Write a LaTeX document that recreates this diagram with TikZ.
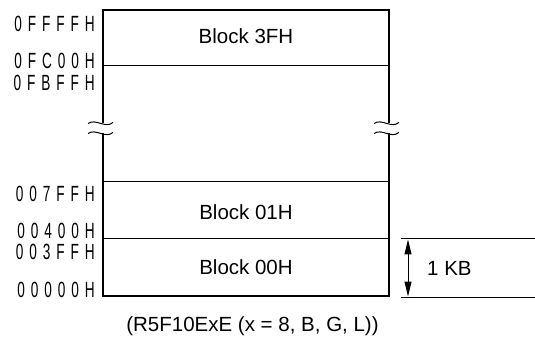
\documentclass[tikz,border=0pt]{standalone}
\usepackage{fontspec}
\setmainfont{Liberation Sans}
\newfontfamily\addrfont[FakeStretch=0.62,LetterSpace=27]{Liberation Sans}
\usetikzlibrary{arrows.meta}
\begin{document}
\begin{tikzpicture}[x=1pt,y=-1pt,
  blk/.style={font=\fontsize{20.5}{24}\selectfont,inner sep=0pt},
  addr/.style={anchor=east,font=\addrfont\fontsize{22}{24}\selectfont,inner sep=0pt},
  outline/.style={line width=2pt},
  divider/.style={line width=1pt},
  brk/.style={line width=1pt},
  dim/.style={line width=1pt,{Triangle[length=15pt,width=7pt]}-{Triangle[length=15pt,width=7pt]}}]
\useasboundingbox (0,0) rectangle (535,347);
% box corners
\coordinate (tl) at (103,10);
\coordinate (tr) at (389,10);
\coordinate (bl) at (103,296);
\coordinate (br) at (389,296);
\coordinate (lbu) at (103,123);
\coordinate (rbu) at (389,123);
\coordinate (lbl) at (103,133);
\coordinate (rbl) at (389,133);
\draw[outline] (lbu) -- (tl) -- (tr) -- (rbu);
\draw[outline] (lbl) -- (bl) -- (br) -- (rbl);
% dividers
\coordinate (d1l) at (103,66);  \coordinate (d1r) at (389,66);
\coordinate (d2l) at (103,182); \coordinate (d2r) at (389,182);
\coordinate (d3l) at (103,239); \coordinate (d3r) at (389,239);
\draw[divider] (d1l) -- (d1r);
\draw[divider] (d2l) -- (d2r);
\draw[divider] (d3l) -- (d3r);
% break marks
\foreach \x in {103,389}{
  \foreach \y in {123,133}{
    \draw[brk] (\x-15,\y+0.5) .. controls (\x-7,\y-5) and (\x+2,\y+6) .. (\x+10,\y-0.5);
  }
}
% block labels
\node[blk] (b3f) at (246,36) {Block 3FH};
\node[blk] (b01) at (246,212.5) {Block 01H};
\node[blk] (b00) at (246,267.5) {Block 00H};
% addresses
\node[addr] (a1) at (95,24) {0FFFFH};
\node[addr] (a2) at (95,61) {0FC00H};
\node[addr] (a3) at (95,82.5) {0FBFFH};
\node[addr] (a4) at (95,194) {007FFH};
\node[addr] (a5) at (95,231) {00400H};
\node[addr] (a6) at (95,251.5) {003FFH};
\node[addr] (a7) at (95,290) {00000H};
% size dimension
\coordinate (e1l) at (401,239); \coordinate (e1r) at (535,239);
\coordinate (e2l) at (401,297); \coordinate (e2r) at (535,297);
\draw[divider] (e1l) -- (e1r);
\draw[divider] (e2l) -- (e2r);
\coordinate (kt) at (408,239.5);
\coordinate (kb) at (408,296.5);
\draw[dim] (kt) -- (kb);
\node[blk,anchor=west] (kb1) at (427,268.5) {1 KB};
% caption
\node[blk] (cap) at (252.5,326) {(R5F10ExE (x = 8, B, G, L))};
\end{tikzpicture}
\end{document}
